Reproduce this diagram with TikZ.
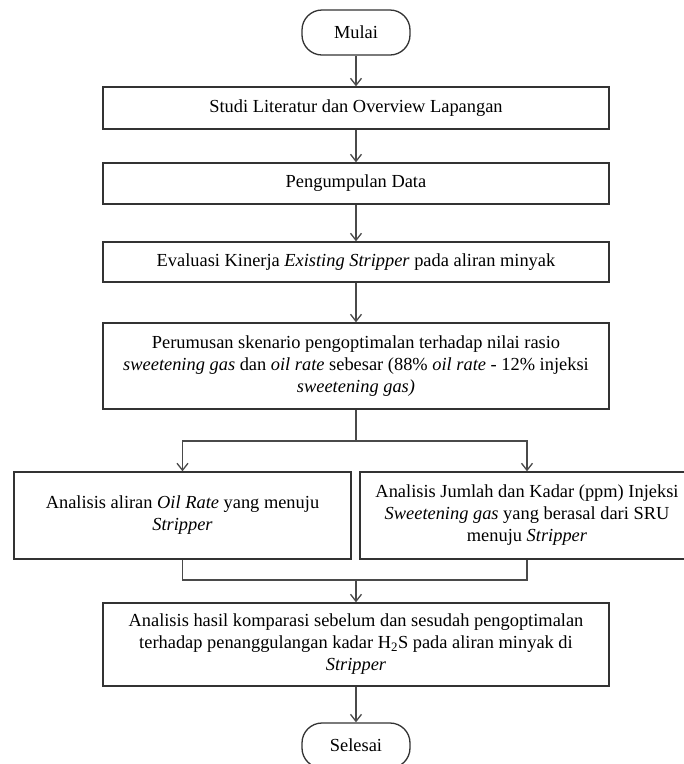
\documentclass[tikz,border=0pt]{standalone}
\usepackage{fontspec}
\setmainfont{Liberation Serif}
\usetikzlibrary{arrows.meta,calc}
\definecolor{boxline}{HTML}{333333}
\definecolor{arrline}{HTML}{4A4A4A}
\tikzset{
  stepbox/.style={draw=boxline, line width=1.4pt, rectangle, inner sep=0pt, align=center,
    font=\fontsize{18.4}{22}\selectfont, minimum width=506pt},
  endbox/.style={draw=boxline, line width=1.3pt, rectangle, rounded corners=20pt, inner sep=0pt,
    font=\fontsize{18.4}{22}\selectfont, minimum width=108pt, minimum height=45pt},
  arr/.style={draw=arrline, line width=1.3pt, -{Straight Barb[length=7pt,width=11pt]}},
  conn/.style={draw=arrline, line width=1.3pt}
}
\begin{document}
\begin{tikzpicture}[x=1pt,y=-1pt]
\useasboundingbox (0,0) rectangle (684,764);
\clip (0,0) rectangle (684,764);
\node[endbox] (mulai) at (356,32.5) {Mulai};
\node[stepbox, minimum height=42pt] (b1) at (356,108) {Studi Literatur dan Overview Lapangan};
\node[stepbox, minimum height=41pt] (b2) at (356,183.5) {Pengumpulan Data};
\node[stepbox, minimum height=40pt] (b3) at (356,262) {Evaluasi Kinerja \textit{Existing Stripper} pada aliran minyak};
\node[stepbox, minimum height=86pt] (b4) at (356,366) {Perumusan skenario pengoptimalan terhadap nilai rasio\\ \textit{sweetening gas} dan \textit{oil rate} sebesar (88\% \textit{oil rate} - 12\% injeksi\\ \textit{sweetening gas)}};
\node[stepbox, minimum width=337pt, minimum height=87pt] (L) at (182.5,515.5) {Analisis aliran \textit{Oil Rate} yang menuju\\ \textit{Stripper}};
\node[stepbox, minimum width=334pt, minimum height=87pt] (R) at (527,515.5) {Analisis Jumlah dan Kadar (ppm) Injeksi\\ \textit{Sweetening gas} yang berasal dari SRU\\ menuju \textit{Stripper}};
\node[stepbox, minimum height=83pt] (b5) at (356,644.5) {Analisis hasil komparasi sebelum dan sesudah pengoptimalan\\ terhadap penanggulangan kadar H\textsubscript{2}S pada aliran minyak di\\ \textit{Stripper}};
\node[endbox] (selesai) at (356,745.5) {Selesai};
\coordinate (split) at (356,441);
\coordinate (join) at (356,580);
\draw[arr] (mulai) -- (b1);
\draw[arr] (b1) -- (b2);
\draw[arr] (b2) -- (b3);
\draw[arr] (b3) -- (b4);
\draw[conn] (b4.south) -- (split);
\draw[arr] (split) -| (L.north);
\draw[arr] (split) -| (R.north);
\draw[conn] (L.south) |- (join);
\draw[conn] (R.south) |- (join);
\draw[arr] (join) -- (b5.north);
\draw[arr] (b5) -- (selesai);
\end{tikzpicture}
\end{document}
